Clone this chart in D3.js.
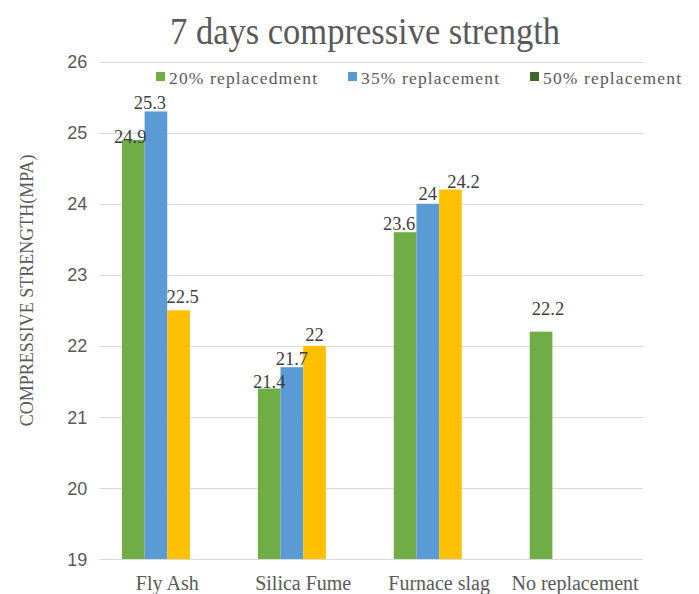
<!DOCTYPE html>
<html>
<head>
<meta charset="utf-8">
<script src="https://cdn.jsdelivr.net/npm/d3@7"></script>
<style>
  html, body { margin: 0; padding: 0; background: #ffffff; }
  svg { display: block; }
</style>
</head>
<body>
<svg id="chart" width="699" height="594"></svg>
<script>
// ---- data ----
const categories = ["Fly Ash", "Silica Fume", "Furnace slag", "No replacement"];
const seriesKeys = ["20% replacedment", "35% replacement", "Series3", "50% replacement"];
const values20 = [24.9, 21.4, 23.6, 22.2];
const values35 = [25.3, 21.7, 24, null];
const valuesS3 = [22.5, 22, 24.2, null];
const values50 = [null, null, null, null];
const legendKeys = ["20% replacedment", "35% replacement", "50% replacement"];
const yTicks = [19, 20, 21, 22, 23, 24, 25, 26];

const seriesValues = [values20, values35, valuesS3, values50];
const colors = {
  "20% replacedment": "#70ad47",
  "35% replacement": "#5b9bd5",
  "Series3": "#ffc000",
  "50% replacement": "#43682b"
};

// small label nudges (dx, dy) keyed by category index and series index
const labelNudge = {
  "0-0": [-3, 5], "0-1": [-6, 0], "0-2": [4, -5],
  "1-0": [0, 2], "1-2": [0, -3],
  "2-0": [-6, 0], "2-1": [0, -2], "2-2": [13, 0],
  "3-0": [7, -15]
};

const serif = "'Liberation Serif', 'Times New Roman', serif";
const svg = d3.select("#chart");
const plot = { left: 99.3, right: 643, top: 61.7, bottom: 559 };

const y = d3.scaleLinear().domain([19, 26]).range([plot.bottom, plot.top]);
const x0 = d3.scaleBand().domain(categories)
  .range([plot.left, plot.right])
  .paddingInner(1 / 3).paddingOuter(1 / 6);
const x1 = d3.scaleBand().domain(seriesKeys).range([0, x0.bandwidth()]);

// gridlines
svg.append("g")
  .selectAll("line").data(yTicks).join("line")
  .attr("x1", plot.left).attr("x2", plot.right)
  .attr("y1", d => Math.round(y(d)) + 0.5).attr("y2", d => Math.round(y(d)) + 0.5)
  .attr("stroke", "#d9d9d9").attr("stroke-width", 1);

// y axis tick labels
const yAxis = d3.axisLeft(y).tickValues(yTicks).tickFormat(d3.format("d")).tickSize(0).tickPadding(0);
const gy = svg.append("g").attr("transform", `translate(${plot.left - 12},0)`).call(yAxis);
gy.select(".domain").remove();
gy.selectAll("text")
  .attr("font-family", "'Liberation Sans', Arial, sans-serif")
  .attr("font-size", 18).attr("fill", "#595959").attr("dy", "0.34em");

// x axis category labels
const xAxisScale = d3.scaleBand().domain(categories).range([plot.left, plot.right]);
const xAxis = d3.axisBottom(xAxisScale).tickSize(0).tickPadding(0);
const gx = svg.append("g").attr("transform", `translate(0,${plot.bottom})`).call(xAxis);
gx.select(".domain").remove();
gx.selectAll("text")
  .attr("font-family", serif)
  .attr("font-size", 20).attr("fill", "#595959").attr("dy", null).attr("y", 31);

// bars
const barData = [];
categories.forEach((c, ci) => {
  seriesKeys.forEach((k, si) => {
    const v = seriesValues[si][ci];
    if (v !== null && v !== undefined) barData.push({ c, ci, k, si, v });
  });
});

svg.append("g").selectAll("rect").data(barData).join("rect")
  .attr("x", d => x0(d.c) + x1(d.k))
  .attr("y", d => y(d.v))
  .attr("width", x1.bandwidth())
  .attr("height", d => y(19) - y(d.v))
  .attr("fill", d => colors[d.k]);

// value labels
svg.append("g").selectAll("text").data(barData).join("text")
  .attr("x", d => x0(d.c) + x1(d.k) + x1.bandwidth() / 2 + (labelNudge[d.ci + "-" + d.si] || [0, 0])[0])
  .attr("y", d => y(d.v) - 2 + (labelNudge[d.ci + "-" + d.si] || [0, 0])[1])
  .attr("text-anchor", "middle")
  .attr("font-family", serif)
  .attr("font-size", 18.5).attr("fill", "#404040")
  .text(d => d.v);

// title
svg.append("text")
  .attr("x", 365).attr("y", 44)
  .attr("text-anchor", "middle")
  .attr("font-family", serif)
  .attr("font-size", 37).attr("fill", "#595959")
  .attr("textLength", 390).attr("lengthAdjust", "spacingAndGlyphs")
  .text("7 days compressive strength");

// y axis title
svg.append("text")
  .attr("transform", `translate(33,${(plot.top + plot.bottom) / 2 - 20}) rotate(-90)`)
  .attr("text-anchor", "middle")
  .attr("font-family", serif)
  .attr("font-size", 18).attr("fill", "#595959")
  .text("COMPRESSIVE STRENGTH(MPA)");

// legend
const legendX = [156, 348, 530];
const legendW = [148, 138, 138];
const legend = svg.append("g");
legendKeys.forEach((k, i) => {
  legend.append("rect")
    .attr("x", legendX[i]).attr("y", 72)
    .attr("width", 9).attr("height", 9)
    .attr("fill", colors[k]);
  legend.append("text")
    .attr("x", legendX[i] + 13).attr("y", 84.3)
    .attr("font-family", serif)
    .attr("font-size", 17.5).attr("fill", "#595959")
    .attr("textLength", legendW[i]).attr("lengthAdjust", "spacing")
    .text(k);
});
</script>
</body>
</html>
